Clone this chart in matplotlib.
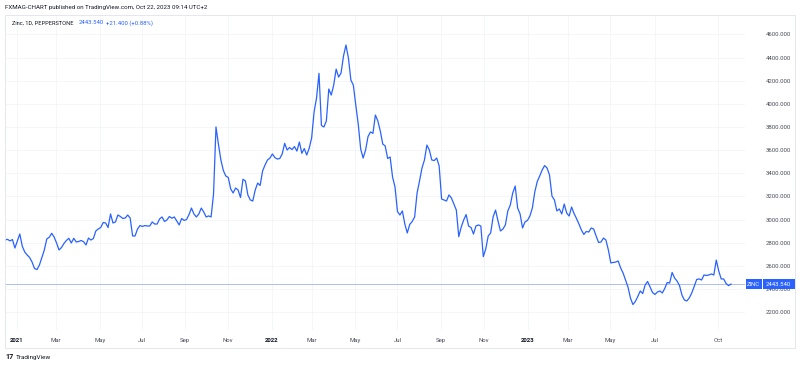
import matplotlib
matplotlib.use("Agg")
import matplotlib.pyplot as plt
from matplotlib.transforms import blended_transform_factory
from matplotlib.patches import Rectangle
import pandas as pd

# ---------------- data (closes, twice a week) ----------------
start_closes = [2824, 2830]
closes_2021 = [2816, 2828, 2755, 2816, 2876, 2772, 2721, 2695, 2673, 2634, 2578, 2569,
               2608, 2673, 2738, 2833, 2848, 2882, 2850, 2798, 2738, 2759, 2794, 2820,
               2839, 2798, 2839, 2807, 2811, 2820, 2810, 2781, 2841, 2824, 2837, 2902,
               2919, 2932, 2975, 2971, 2932, 3049, 2971, 2980, 3040, 3027, 3010, 3014,
               3040, 3014, 2859, 2859, 2919, 2949, 2941, 2949, 2945, 2945, 2980, 2962,
               2962, 3006, 3023, 2984, 2997, 3027, 3012, 3023, 2988, 2954, 3010, 2993,
               3001, 3044, 3100, 3049, 3023, 3049, 3100, 3066, 3023, 3032, 3023, 3221,
               3800, 3650, 3515, 3424, 3377, 3364, 3265, 3230, 3273, 3256, 3191, 3348,
               3334, 3213, 3170, 3161, 3256, 3316, 3295, 3420, 3472, 3515, 3532, 3567]
closes_2022 = [3536, 3523, 3528, 3567, 3659, 3601, 3623, 3605, 3631, 3592, 3670, 3573,
               3614, 3558, 3616, 3705, 3929, 4050, 4263, 3813, 3800, 3852, 4128, 4076,
               4162, 4300, 4231, 4266, 4413, 4508, 4395, 4206, 4162, 3990, 3826, 3610,
               3532, 3601, 3718, 3757, 3745, 3903, 3852, 3765, 3653, 3636, 3528, 3541,
               3368, 3282, 3070, 3040, 3075, 2962, 2885, 2958, 2984, 3023, 3230, 3334,
               3446, 3515, 3644, 3601, 3515, 3510, 3532, 3463, 3178, 3170, 3161, 3213,
               3187, 3135, 3083, 2853, 2936, 2997, 3044, 2945, 2932, 2876, 2945, 2954,
               2945, 2680, 2747, 2859, 2885, 3023, 3083, 2988, 2902, 2919, 2954, 3075,
               3126, 3230, 3290, 3100, 3049, 2928, 2980, 2993]
closes_2023 = [3031, 3100, 3239, 3329, 3377, 3428, 3467, 3446, 3385, 3204, 3170, 3075,
               3092, 3049, 3135, 3057, 3031, 3109, 3053, 3010, 2962, 2911, 2872, 2898,
               2893, 2928, 2919, 2859, 2803, 2807, 2841, 2824, 2738, 2626, 2630, 2634,
               2643, 2583, 2539, 2479, 2418, 2324, 2267, 2293, 2336, 2384, 2362, 2436,
               2466, 2418, 2371, 2354, 2375, 2384, 2367, 2406, 2457, 2453, 2544, 2496,
               2470, 2431, 2349, 2306, 2298, 2324, 2367, 2423, 2483, 2488, 2479, 2522,
               2518, 2522, 2531, 2522, 2651, 2557, 2488, 2488, 2449, 2430, 2443.54]
start_date = "2020-12-18"
sample_step = "84h"

last_price = 2443.54
change = 21.400
change_pct = 0.88

price_ticks = [2200, 2400, 2600, 2800, 3000, 3200, 3400, 3600, 3800, 4000, 4200, 4400, 4600]
time_tick_dates = ["2021-01-04", "2021-03-01", "2021-05-03", "2021-07-01", "2021-09-01",
                   "2021-11-01", "2022-01-03", "2022-03-01", "2022-05-02", "2022-07-01",
                   "2022-09-01", "2022-11-01", "2023-01-03", "2023-03-01", "2023-05-01",
                   "2023-07-03", "2023-10-02"]
time_tick_labels = ["2021", "Mar", "May", "Jul", "Sep", "Nov", "2022", "Mar", "May", "Jul",
                    "Sep", "Nov", "2023", "Mar", "May", "Jul", "Oct"]
year_labels = {"2021", "2022", "2023"}

symbol = "ZINC"
header = "FXMAG-CHART published on TradingView.com, Oct 22, 2023 09:14 UTC+2"
legend_name = "Zinc, 1D, PEPPERSTONE"

# ---------------- build ----------------
closes = start_closes + closes_2021 + closes_2022 + closes_2023
dates = pd.date_range(start_date, periods=len(closes), freq=sample_step)

BLUE = "#2962ff"
TXT = "#131722"
AX_TXT = "#4a4d57"
plt.rcParams["font.family"] = ["Roboto", "DejaVu Sans"]

W, H = 800, 365
fig = plt.figure(figsize=(W / 100, H / 100), dpi=100)
fig.patch.set_facecolor("white")

pane_top, pane_bot = 15, 330
pane_left, pane_right = 5, 745
ax = fig.add_axes([pane_left / W, 1 - pane_bot / H,
                   (pane_right - pane_left) / W, (pane_bot - pane_top) / H])
ax.set_facecolor("white")

ax.plot(dates, closes, color=BLUE, lw=0.9, solid_joinstyle="round", zorder=3)
ax.axhline(last_price, color="#aebff0", lw=0.7, zorder=2)

ylo, yhi = 2047, 4767
ax.set_ylim(ylo, yhi)
ax.set_xlim(pd.Timestamp("2020-12-17 21:00"), pd.Timestamp("2023-11-09"))

for s in ax.spines.values():
    s.set_visible(False)

ax.set_yticks(price_ticks)
ax.set_yticklabels([f"{v:.3f}" for v in price_ticks])
ax.yaxis.tick_right()
ax.tick_params(axis="y", length=0, pad=33.0, labelsize=4.3, labelcolor=AX_TXT)
for lbl in ax.get_yticklabels():
    lbl.set_horizontalalignment("right")

tick_ts = pd.to_datetime(time_tick_dates)
ax.set_xticks(tick_ts)
ax.set_xticklabels(time_tick_labels)
ax.tick_params(axis="x", length=0, pad=5.5, labelsize=4.3, labelcolor=AX_TXT)
for lbl, name in zip(ax.get_xticklabels(), time_tick_labels):
    if name in year_labels:
        lbl.set_fontweight("bold")
        lbl.set_color(TXT)

ax.grid(True, color="#f2f3f7", lw=0.5, zorder=0)

# price-scale label for last value
tr = blended_transform_factory(ax.transAxes, ax.transData)
def axx(px):
    return (px - pane_left) / (pane_right - pane_left)
box_h = 10 * (yhi - ylo) / (pane_bot - pane_top)
ax.add_patch(Rectangle((axx(745.5), last_price - box_h / 2), axx(762) - axx(745.5), box_h,
                       transform=tr, facecolor=BLUE, edgecolor="none", clip_on=False, zorder=5))
ax.add_patch(Rectangle((axx(762.5), last_price - box_h / 2), axx(795) - axx(762.5), box_h,
                       transform=tr, facecolor=BLUE, edgecolor="none", clip_on=False, zorder=5))
ax.text(axx(753.7), last_price, symbol, transform=tr, ha="center", va="center",
        color="white", fontsize=4.2, zorder=6, clip_on=False)
ax.text(axx(790.5), last_price, f"{last_price:.3f}", transform=tr, ha="right", va="center",
        color="white", fontsize=4.3, zorder=6, clip_on=False)

# chart frame
fig.add_artist(Rectangle((5 / W, 1 - 348 / H), 790 / W, (348 - 15) / H,
                         transform=fig.transFigure, facecolor="none",
                         edgecolor="#e0e3eb", lw=0.6))

# header and legend
fig.text(5 / W, 1 - 7.5 / H, header, ha="left", va="center", fontsize=4.4, color=TXT)
fig.text(11.5 / W, 1 - 23 / H, legend_name, ha="left", va="center", fontsize=4.1, color=TXT)
fig.text(79 / W, 1 - 23 / H, f"{last_price:.3f}", ha="left", va="center", fontsize=4.3, color=BLUE)
fig.text(106 / W, 1 - 23 / H, f"+{change:.3f} (+{change_pct:.2f}%)", ha="left", va="center",
         fontsize=4.3, color=BLUE)

# TradingView logo
fig.text(5 / W, 1 - 357 / H, "17", ha="left", va="center", fontsize=5.2,
         fontweight="bold", color=TXT)
fig.text(16 / W, 1 - 357 / H, "TradingView", ha="left", va="center", fontsize=4.6, color=TXT)

fig.savefig("out.png", dpi=100, facecolor="white")
